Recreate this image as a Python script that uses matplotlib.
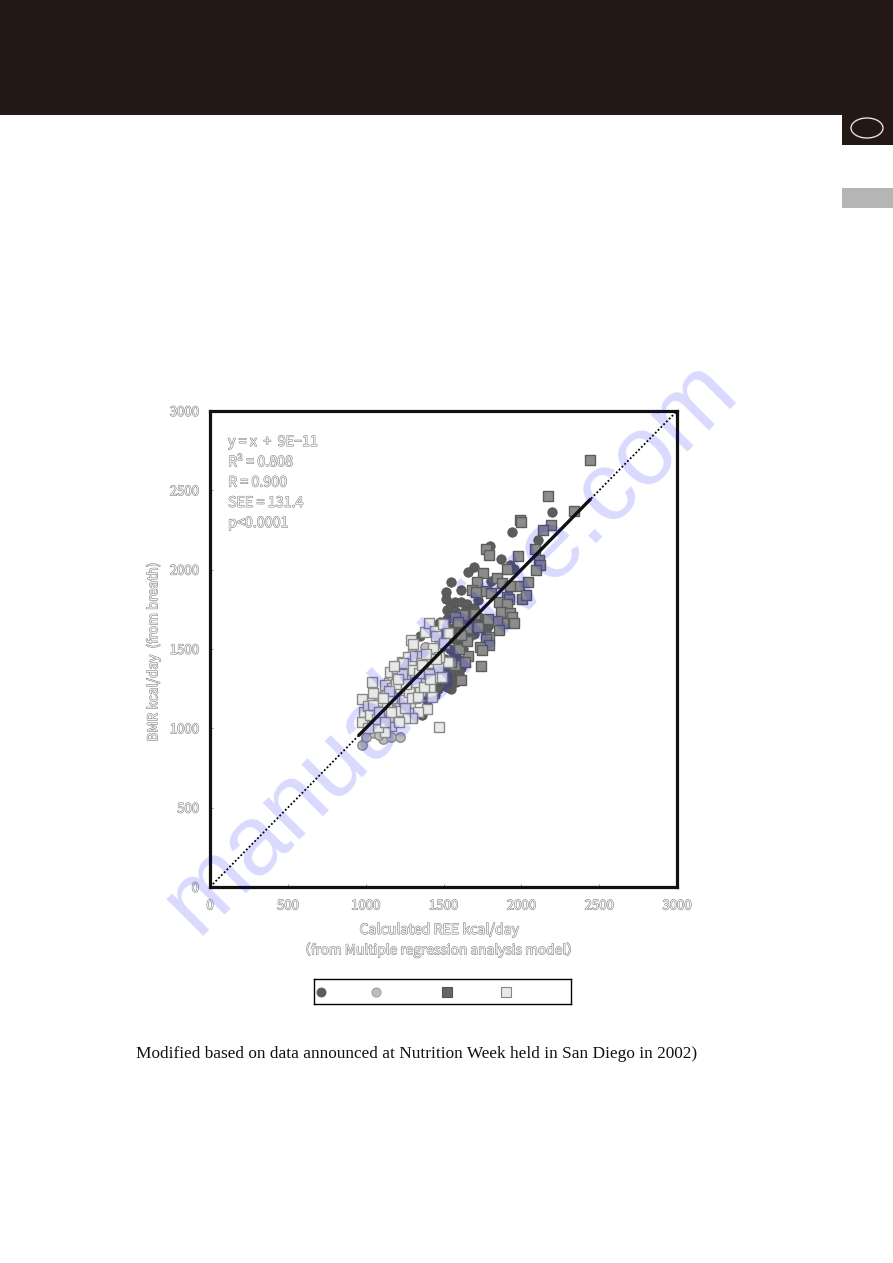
import matplotlib
matplotlib.use('Agg')
import matplotlib.pyplot as plt
import matplotlib.patheffects as pe
from matplotlib.patches import Rectangle, Ellipse

plt.rcParams['font.family'] = ['Noto Sans CJK JP', 'DejaVu Sans']

# values (calculated REE, BMR)
male_circle_x = [2196, 1943, 2110, 1800, 1869, 1697, 1655, 1549, 1611, 1515, 1515, 1955, 1930, 1807, 1525, 1574,
                 1611, 1648, 1525, 1451, 1480, 1549, 1697, 1721, 1746, 1783, 1697, 1660, 1352, 1389, 1623, 1574,
                 1549, 1598, 1500, 1450, 1360, 1377, 1574, 1595, 1520, 1477, 1540, 1560, 1590, 1500, 1470, 1610,
                 1640, 1770, 1760, 1730, 1640, 1560, 1580, 1530, 1440, 1410, 1530, 1560, 1500, 1620, 1590, 1450,
                 1540, 1575, 1600, 1625, 1660, 1700, 1520, 1555, 1500, 1605, 1565, 1610, 1540, 1480, 1455, 1525,
                 1580, 1615, 1570, 1510, 1690, 1745, 1775, 1790, 1445, 1420, 1395, 1510, 1550, 1600, 1465, 1630]
male_circle_y = [2365, 2237, 2185, 2148, 2067, 2015, 1988, 1922, 1875, 1857, 1817, 2004, 2032, 1927, 1747, 1794,
                 1794, 1782, 1689, 1654, 1670, 1712, 1759, 1806, 1666, 1642, 1596, 1561, 1584, 1514, 1503, 1363,
                 1251, 1340, 1270, 1275, 1085, 1212, 1456, 1357, 1263, 1273, 1340, 1400, 1440, 1520, 1600, 1700,
                 1660, 1650, 1690, 1700, 1740, 1780, 1650, 1590, 1470, 1380, 1300, 1480, 1560, 1620, 1520, 1330,
                 1765, 1740, 1720, 1700, 1710, 1680, 1640, 1620, 1590, 1640, 1560, 1560, 1500, 1350, 1290, 1330,
                 1290, 1380, 1410, 1440, 1625, 1630, 1615, 1660, 1210, 1260, 1150, 1390, 1310, 1420, 1250, 1590]

female_circle_x = [974, 1002, 1113, 1160, 1220, 1053, 1085, 1081, 1113, 1384, 1030, 1060, 1100, 1130, 1150, 1180,
                   1210, 1240, 1090, 1120, 1160, 1190, 1140, 1170, 1200, 1230, 1260, 1300, 1040, 1070, 1010, 1295]
female_circle_y = [895, 948, 933, 948, 948, 969, 960, 1200, 1210, 1514, 1000, 1040, 1020, 1000, 1060, 1040,
                   1090, 1110, 1120, 1150, 1120, 1170, 1240, 1230, 1200, 1260, 1180, 1240, 1080, 1130, 1020, 1475]

male_square_x = [2440, 2169, 2336, 2189, 2140, 1992, 2000, 2090, 1770, 1790, 1906, 2115, 2120, 2095, 1753, 1716,
                 1844, 1874, 1980, 1985, 2041, 1930, 2004, 2029, 1906, 1918, 1684, 1709, 1770, 1807, 1856, 1906,
                 1869, 1930, 1943, 1950, 1881, 1844, 1783, 1856, 1795, 1770, 1795, 1733, 1746, 1660, 1635, 1739,
                 1611, 1574, 1598, 1648, 1623, 1574, 1648, 1590, 1700, 1720, 1610, 1545]
male_square_y = [2690, 2463, 2372, 2283, 2248, 2314, 2300, 2132, 2130, 2090, 2004, 2062, 2027, 2000, 1980, 1922,
                 1945, 1915, 2085, 1899, 1922, 1899, 1817, 1840, 1829, 1817, 1875, 1857, 1864, 1852, 1794, 1782,
                 1736, 1724, 1701, 1666, 1666, 1678, 1689, 1619, 1573, 1561, 1526, 1514, 1491, 1456, 1421, 1396,
                 1305, 1398, 1503, 1549, 1713, 1701, 1631, 1670, 1720, 1640, 1590, 1420]

female_square_x = [1470, 1038, 974, 1049, 989, 974, 1017, 1060, 1102, 1152, 1177, 1156, 1199, 1199, 1231, 1274,
                   1289, 1242, 1263, 1316, 1359, 1355, 1424, 1291, 1302, 1381, 1409, 1445, 1494, 1477, 1434, 1531,
                   1466, 1434, 1488, 1413, 1424, 1396, 1349, 1374, 1316, 1274, 1284, 1338, 1295, 1252, 1220, 1160,
                   1124, 1081, 1145, 1102, 1027, 1188, 1139, 1124, 1167, 1220, 1316, 1388, 1450, 1530, 1380, 1470,
                   1100, 1135, 1170, 1210, 1245, 1280, 1325, 1195, 1235, 1260, 1305, 1340, 1365, 1405, 1070, 1045,
                   1015, 1085, 1125, 1165, 1215, 1255, 1295, 1335, 1375, 1415, 1455, 1505, 1210, 1150, 1110, 1185]
female_square_y = [1011, 1294, 1183, 1225, 1101, 1042, 1141, 1133, 1147, 1288, 1336, 1357, 1326, 1383, 1420, 1452,
                   1406, 1414, 1336, 1456, 1456, 1410, 1414, 1557, 1532, 1605, 1662, 1616, 1656, 1540, 1505, 1420,
                   1383, 1326, 1326, 1253, 1200, 1122, 1238, 1315, 1336, 1273, 1158, 1105, 1064, 1064, 1147, 1015,
                   980, 1007, 1074, 1057, 1084, 1190, 1225, 1273, 1253, 1253, 1190, 1470, 1580, 1600, 1350, 1450,
                   1110, 1160, 1190, 1110, 1180, 1230, 1290, 1280, 1340, 1280, 1370, 1350, 1400, 1340, 1060, 1150,
                   1005, 1105, 1040, 1100, 1040, 1130, 1190, 1200, 1260, 1310, 1440, 1540, 1310, 1235, 1190, 1395]

ticks = [0, 500, 1000, 1500, 2000, 2500, 3000]
fit_x = [960, 2440]
fit_y = [960, 2440]
stats = ['y = x  +  9E\u221211', 'R² = 0.808', 'R = 0.900', 'SEE = 131.4', 'p<0.0001']
legend_x = [321, 376, 447, 506]

W, H = 893, 1263
fig = plt.figure(figsize=(W / 100, H / 100), dpi=100, facecolor='white')

# page furniture
fig.add_artist(Rectangle((0, 1 - 115 / H), 1, 115 / H, transform=fig.transFigure, fc='#231815', ec='none'))
fig.add_artist(Rectangle((842 / W, 1 - 145 / H), 51 / W, 30 / H, transform=fig.transFigure, fc='#231815', ec='none'))
fig.add_artist(Rectangle((842 / W, 1 - 208 / H), 51 / W, 20 / H, transform=fig.transFigure, fc='#b5b5b5', ec='none'))
fig.add_artist(Ellipse((867 / W, 1 - 128 / H), 32 / W, 20 / H, transform=fig.transFigure, fc='none', ec='#e0e0e0', lw=1))

ax = fig.add_axes([210 / W, 1 - 887 / H, 467 / W, 476 / H])
ax.set_xlim(0, 3000)
ax.set_ylim(0, 3000)
ax.set_facecolor('none')


def ghost(t):
    # hollow grey look of the scanned chart text
    t.set_color('#f4f4f4')
    t.set_path_effects([pe.withStroke(linewidth=0.7, foreground='#7a7a7a')])
    return t


ax.scatter(male_circle_x, male_circle_y, s=46, c='#5c5c5c', edgecolors='#555555', linewidths=0.6, zorder=2)
ax.scatter(female_circle_x, female_circle_y, s=46, c='#bdbdbd', edgecolors='#8a8a8a', linewidths=1, zorder=2.1)
ax.scatter(male_square_x, male_square_y, s=46, marker='s', c='#8c8c8c', edgecolors='#5c5c5c', linewidths=1, zorder=2.2)
ax.scatter(female_square_x, female_square_y, s=46, marker='s', c='#e8e8e8', edgecolors='#8a8a8a', linewidths=1, zorder=2.3)

ax.plot([0, 3000], [0, 3000], color='black', lw=1.3, ls=(0, (1, 1.2)), zorder=3)
ax.plot(fit_x, fit_y, color='#111111', lw=2.4, zorder=3.1)

for s in ax.spines.values():
    s.set_linewidth(2.3)
    s.set_color('#111111')

ax.set_xticks(ticks)
ax.set_yticks(ticks)
ax.tick_params(direction='in', length=2.5, width=0.6, color='#888888', labelsize=9.5)
ax.tick_params(axis='x', pad=9)
ax.tick_params(axis='y', pad=8)
for t in ax.get_xticklabels() + ax.get_yticklabels():
    ghost(t)

for i, line in enumerate(stats):
    ghost(fig.text(228 / W, 1 - (442 + i * 20.3) / H, line, fontsize=10.3, ha='left', va='center'))

ghost(fig.text(439 / W, 1 - 930 / H, 'Calculated REE kcal/day', fontsize=10.2, ha='center', va='center'))
ghost(fig.text(439 / W, 1 - 950 / H, '\uff08from Multiple regression analysis model\uff09', fontsize=9.9, ha='center', va='center'))
ghost(fig.text(153 / W, 1 - 652 / H, 'BMR kcal/day  (from breath)', fontsize=9.9, rotation=90, ha='center', va='center'))

# legend box, its labels are blank in the source
leg = fig.add_axes([314 / W, 1 - 1004 / H, 257 / W, 25 / H])
leg.set_xlim(314, 571)
leg.set_ylim(0, 1)
leg.set_xticks([])
leg.set_yticks([])
leg.scatter(legend_x[0], 0.5, s=42, c='#5c5c5c', edgecolors='#555555', linewidths=0.6)
leg.scatter(legend_x[1], 0.5, s=42, c='#bdbdbd', edgecolors='#a0a0a0', linewidths=0.8)
leg.scatter(legend_x[2], 0.5, s=42, marker='s', c='#666666', edgecolors='#555555', linewidths=0.8)
leg.scatter(legend_x[3], 0.5, s=42, marker='s', c='#e8e8e8', edgecolors='#858585', linewidths=0.8)
for s in leg.spines.values():
    s.set_linewidth(1)

fig.text(136 / W, 1 - 1054 / H, 'Modified based on data announced at Nutrition Week held in San Diego in 2002)',
         fontsize=12.45, family=['Liberation Serif'], ha='left', va='center', color='#111111')

# watermark sits over everything
fig.text(468 / W, 1 - 665 / H, 'manualshive.com', fontsize=71, rotation=45, rotation_mode='anchor',
         family=['Liberation Sans'], ha='center', va='baseline', color='#0000ff', alpha=0.15, zorder=10)

fig.savefig('out.png', dpi=100)
